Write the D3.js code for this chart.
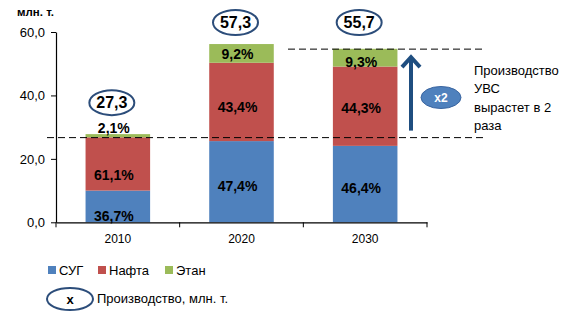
<!DOCTYPE html>
<html><head><meta charset="utf-8">
<script src="https://cdn.jsdelivr.net/npm/d3@7"></script>
<style>
html,body{margin:0;padding:0;background:#fff;}
text{font-family:"Liberation Sans",Arial,sans-serif;}
</style></head>
<body>
<svg id="c" width="566" height="321"></svg>
<script>
// ---- data ----
const years = ["2010", "2020", "2030"];
const seriesNames = ["СУГ", "Нафта", "Этан"];
const valuesSUG = [10.0, 25.6, 24.1];
const valuesNafta = [16.8, 24.7, 25.0];
const valuesEthane = [1.0, 5.9, 5.6];
const shareSUG = ["36,7%", "47,4%", "46,4%"];
const shareNafta = ["61,1%", "43,4%", "44,3%"];
const shareEthane = ["2,1%", "9,2%", "9,3%"];
const totals = ["27,3", "57,3", "55,7"];
const yTicks = [0, 20, 40, 60];
const refLevels = [26.7, 54.6];
const noteLines = ["Производство", "УВС", "вырастет в 2", "раза"];
const growthLabel = "x2";
const unitLabel = "млн. т.";
const ellipseLegend = "Производство, млн. т.";

// ---- layout / style ----
const colors = ["#4F81BD", "#C0504D", "#9BBB59"];
const darkBlue = "#2C4D7A";
const labelDy = {"2010": [10, 11, 0], "2020": [4, 5, 1], "2030": [4, 2, 4]};

const svg = d3.select("#c");
const x = d3.scaleBand().domain(years).range([56, 427]).paddingInner(0.478).paddingOuter(0.239);
const y = d3.scaleLinear().domain([0, 60]).range([222.3, 32]);
const fmt = d3.formatLocale({decimal: ",", thousands: " ", grouping: [3], currency: ["", ""]}).format(".1f");

const seriesVals = [valuesSUG, valuesNafta, valuesEthane];
const shares = [shareSUG, shareNafta, shareEthane];
const rows = years.map((yr, i) => ({year: yr, v0: valuesSUG[i], v1: valuesNafta[i], v2: valuesEthane[i]}));
const stack = d3.stack().keys(["v0", "v1", "v2"])(rows);

// bars
stack.forEach((layer, si) => {
  svg.append("g").selectAll("rect").data(layer).join("rect")
    .attr("x", d => x(d.data.year))
    .attr("width", x.bandwidth())
    .attr("y", d => y(d[1]))
    .attr("height", d => y(d[0]) - y(d[1]))
    .attr("fill", colors[si]);
});

// y axis
const yAxis = svg.append("g").attr("transform", "translate(56,0)")
  .call(d3.axisLeft(y).tickValues(yTicks).tickSize(5).tickSizeOuter(0).tickFormat(fmt).tickPadding(6));
yAxis.select(".domain").attr("stroke", "#000").attr("stroke-width", 1.2);
yAxis.selectAll(".tick line").attr("stroke", "#000");
yAxis.selectAll(".tick text").attr("font-size", 13).attr("fill", "#000")
  .attr("font-family", "'Liberation Sans',Arial,sans-serif");

// x axis
const xAxis = svg.append("g").attr("transform", `translate(0,${y(0)})`)
  .call(d3.axisBottom(x).tickSize(0).tickSizeOuter(0).tickPadding(12));
xAxis.select(".domain").attr("stroke", "#000").attr("stroke-width", 1.2);
xAxis.selectAll(".tick text").attr("font-size", 12).attr("fill", "#000")
  .attr("font-family", "'Liberation Sans',Arial,sans-serif");
const bounds = years.map(yr => x(yr) - x.step() * x.paddingInner() / 2).concat([x(years[years.length - 1]) + x.bandwidth() + x.step() * x.paddingInner() / 2]);
svg.append("g").selectAll("line").data(bounds).join("line")
  .attr("x1", d => d).attr("x2", d => d)
  .attr("y1", y(0)).attr("y2", y(0) + 5)
  .attr("stroke", "#000");

// unit label
svg.append("text").attr("x", 17).attr("y", 16).attr("font-size", 11.5).attr("font-weight", "bold")
  .attr("fill", "#000").text(unitLabel);

// reference dashed lines
svg.append("line").attr("x1", 47).attr("x2", 484).attr("y1", y(refLevels[0])).attr("y2", y(refLevels[0]))
  .attr("stroke", "#000").attr("stroke-dasharray", "7,4");
svg.append("line").attr("x1", 288).attr("x2", 484).attr("y1", y(refLevels[1])).attr("y2", y(refLevels[1]))
  .attr("stroke", "#000").attr("stroke-dasharray", "7,4");

// percent labels
stack.forEach((layer, si) => {
  layer.forEach((d, i) => {
    const yr = d.data.year;
    let cy;
    if (yr === "2010" && si === 2) cy = y(d[1]) - 6;
    else cy = (y(d[0]) + y(d[1])) / 2 + labelDy[yr][si];
    svg.append("text")
      .attr("x", x(yr) + x.bandwidth() / 2 - 4)
      .attr("y", cy).attr("dy", "0.36em")
      .attr("text-anchor", "middle").attr("font-size", 14).attr("font-weight", "bold")
      .attr("fill", "#000").text(shares[si][i]);
  });
});

// total ellipses
years.forEach((yr, i) => {
  const top = y(valuesSUG[i] + valuesNafta[i] + valuesEthane[i]);
  const cx = x(yr) + x.bandwidth() / 2 - 6;
  const cy = Math.max(top - 31.5, 22.5);
  svg.append("ellipse").attr("cx", cx).attr("cy", cy).attr("rx", 22.5).attr("ry", 12.5)
    .attr("fill", "#fff").attr("stroke", darkBlue).attr("stroke-width", 2);
  svg.append("text").attr("x", cx).attr("y", cy).attr("dy", "0.36em").attr("text-anchor", "middle")
    .attr("font-size", 16).attr("font-weight", "bold").attr("fill", "#000").text(totals[i]);
});

// growth arrow
const ax = 411;
svg.append("line").attr("x1", ax).attr("x2", ax).attr("y1", y(refLevels[0]) - 7).attr("y2", y(refLevels[1]) + 9)
  .attr("stroke", "#1F4E80").attr("stroke-width", 4);
svg.append("polyline")
  .attr("points", `${ax - 9},${y(refLevels[1]) + 18} ${ax},${y(refLevels[1]) + 8} ${ax + 9},${y(refLevels[1]) + 18}`)
  .attr("fill", "none").attr("stroke", "#1F4E80").attr("stroke-width", 4).attr("stroke-linejoin", "miter");

// x2 ellipse
svg.append("ellipse").attr("cx", 441).attr("cy", 97.5).attr("rx", 20).attr("ry", 11)
  .attr("fill", "#4F81BD").attr("stroke", "#3A65A0").attr("stroke-width", 1);
svg.append("text").attr("x", 441).attr("y", 97.5).attr("dy", "0.36em").attr("text-anchor", "middle")
  .attr("font-size", 12).attr("font-weight", "bold").attr("fill", "#fff").text(growthLabel);

// note
svg.append("g").selectAll("text").data(noteLines).join("text")
  .attr("x", 474).attr("y", (d, i) => 75 + i * 18.3)
  .attr("font-size", 13).attr("fill", "#000").text(d => d);

// legend
const legX = [48, 98, 165];
seriesNames.forEach((n, i) => {
  svg.append("rect").attr("x", legX[i]).attr("y", 266).attr("width", 8).attr("height", 8).attr("fill", colors[i]);
  svg.append("text").attr("x", legX[i] + 11).attr("y", 270).attr("dy", "0.36em")
    .attr("font-size", 13).attr("fill", "#000").text(n);
});
svg.append("ellipse").attr("cx", 70).attr("cy", 299).attr("rx", 23).attr("ry", 11)
  .attr("fill", "#fff").attr("stroke", darkBlue).attr("stroke-width", 2);
svg.append("text").attr("x", 70).attr("y", 299).attr("dy", "0.36em").attr("text-anchor", "middle")
  .attr("font-size", 13).attr("font-weight", "bold").attr("fill", "#000").text("x");
svg.append("text").attr("x", 97).attr("y", 298.5).attr("dy", "0.36em")
  .attr("font-size", 13).attr("fill", "#000").text(ellipseLegend);
</script>
</body></html>
